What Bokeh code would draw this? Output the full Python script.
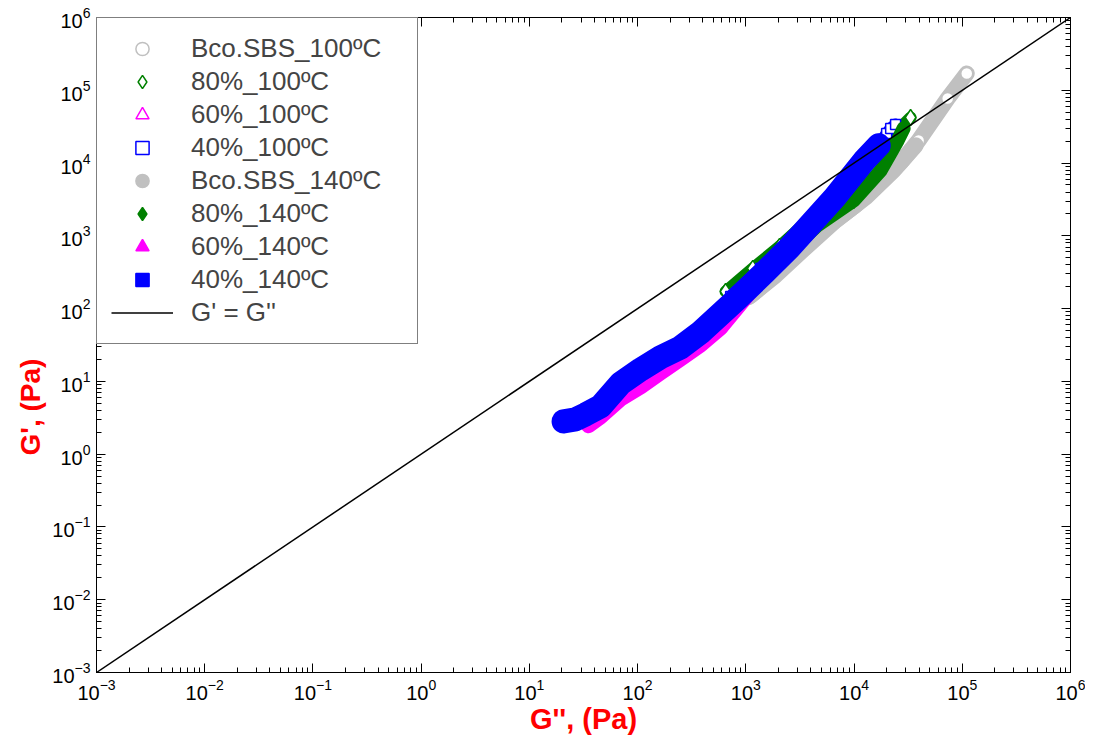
import numpy as np
from bokeh.plotting import figure
from bokeh.models import Legend, LegendItem, LogAxis, LogTicker, Title
from bokeh.embed import file_html
from bokeh.resources import INLINE

# ---------------- data (G'' , G') ----------------
gray100_gpp = [1107, 1885, 3210, 5700, 10300, 17600, 27000, 39500, 73300, 110000]
gray100_gp = [150, 300, 620, 1350, 2620, 5420, 10200, 20400, 77100, 170000]

green100_gpp = [650, 1160, 2050, 3420, 7520, 14200, 24200, 33300]
green100_gp = [172, 357, 715, 1435, 4770, 12300, 26300, 42300]

magenta100_gpp = [693, 1370, 3210, 7520, 14200]
magenta100_gp = [130, 314, 982, 3590, 10900]

blue100_gpp = [724, 1370, 2590, 6080, 11500, 16900, 18400, 20000, 21800, 24200]
blue100_gp = [147, 357, 811, 3060, 8980, 17500, 21100, 25500, 29900, 33900]

gray140_gpp = [1060, 1885, 3570, 6760, 12800, 23200, 37100]
gray140_gp = [143, 285, 690, 1620, 3370, 7910, 17500]

green140_gpp = [805, 1690, 3210, 4610, 9910, 17600, 25300, 28700]
green140_gp = [130, 380, 850, 1400, 3060, 7910, 20400, 29900]

magenta140_gpp = [35.2, 45.5, 69.7, 107, 163, 250, 382, 585, 1370, 3210, 7520, 14200]
magenta140_gp = [2.45, 3.25, 5.7, 8.4, 13.1, 20.3, 31.5, 54.0, 250, 900, 3800, 12000]

blue140_gpp = [20.7, 26.7, 33.0, 45.5, 69.7, 107, 163, 250, 382, 840, 1490, 2540, 6620, 12500, 16900]
blue140_gp = [2.82, 3.01, 3.52, 4.54, 9.4, 14.6, 21.4, 29.3, 47.1, 138, 314, 693, 3370, 10900, 17500]

diag_g = [1e-3, 1e6]

labels = ["Bco.SBS_100\u00baC", "80%_100\u00baC", "60%_100\u00baC", "40%_100\u00baC",
          "Bco.SBS_140\u00baC", "80%_140\u00baC", "60%_140\u00baC", "40%_140\u00baC"]

FONT = "Liberation Sans"

p = figure(width=1085, height=739, x_axis_type="log", y_axis_type="log",
           x_range=(1e-3, 1e6), y_range=(1e-3, 1e6),
           output_backend="svg", toolbar_location=None,
           min_border_left=96, min_border_right=15, min_border_top=17, min_border_bottom=67)
p.grid.visible = False
p.outline_line_color = "black"
p.outline_line_width = 1
p.background_fill_color = "white"
p.border_fill_color = "white"

for ax in (p.xaxis[0], p.yaxis[0]):
    ax.ticker = LogTicker(num_minor_ticks=10)
    ax.major_tick_in = 9
    ax.major_tick_out = 0
    ax.minor_tick_in = 5
    ax.minor_tick_out = 0
    ax.axis_line_color = "black"
    ax.major_tick_line_color = "black"
    ax.minor_tick_line_color = "black"
    ax.major_label_text_font = FONT
    ax.major_label_text_font_size = "20px"
    ax.major_label_text_color = "black"
    ax.major_label_standoff = 6

p.xaxis.axis_label = "G'', (Pa)"
p.xaxis.axis_label_text_font = FONT
p.xaxis.axis_label_text_font_size = "29px"
p.xaxis.axis_label_text_line_height = 1.0
p.xaxis.axis_label_text_font_style = "bold"
p.xaxis.axis_label_text_color = "red"
p.xaxis.axis_label_standoff = 0

p.add_layout(Title(text="G', (Pa)", align="left", text_color="red", text_font=FONT,
                   text_font_size="28px", text_font_style="bold", offset=217, standoff=8), "left")

for loc in ("above", "right"):
    ax = LogAxis(ticker=LogTicker(num_minor_ticks=10), major_label_text_font_size="2px",
                 major_label_text_alpha=0.0,
                 major_label_standoff=0, major_tick_in=9, major_tick_out=0,
                 minor_tick_in=5, minor_tick_out=0, axis_line_color="black")
    p.add_layout(ax, loc)

series = [
    (gray100_gpp, gray100_gp, "circle", "#c0c0c0", "white", 12, 16),
    (green100_gpp, green100_gp, "diamond", "#008000", "white", 16, 12),
    (magenta100_gpp, magenta100_gp, "triangle", "#ff00ff", "white", 12, 12),
    (blue100_gpp, blue100_gp, "square", "#0000ff", "white", 10, 12),
    (gray140_gpp, gray140_gp, "circle", "#c0c0c0", "#c0c0c0", 12, 16),
    (green140_gpp, green140_gp, "diamond", "#008000", "#008000", 16, 14),
    (magenta140_gpp, magenta140_gp, "triangle", "#ff00ff", "#ff00ff", 12, 15),
    (blue140_gpp, blue140_gp, "square", "#0000ff", "#0000ff", 10, 24),
]

items = []
for (xs, ys, mk, lc, fc, sz, lw), lab in zip(series, labels):
    p.line(xs, ys, line_color=lc, line_width=lw, line_join="round", line_cap="round")
    r = p.scatter(xs, ys, marker=mk, size=sz, line_color=lc, fill_color=fc, line_width=1.5)
    items.append(LegendItem(label=lab, renderers=[r]))

diag = p.line(diag_g, diag_g, line_color="black", line_width=1.5)
items.append(LegendItem(label="G' = G''", renderers=[diag]))

legend = Legend(items=items, location="top_left", margin=0, padding=14, spacing=0,
                glyph_width=62, glyph_height=33, label_height=33, label_width=212,
                label_standoff=18, label_text_font=FONT, label_text_font_size="26px",
                border_line_color="black", border_line_width=1,
                background_fill_color="white", background_fill_alpha=1.0)
p.add_layout(legend)

open("out.html", "w").write(file_html(p, INLINE))
